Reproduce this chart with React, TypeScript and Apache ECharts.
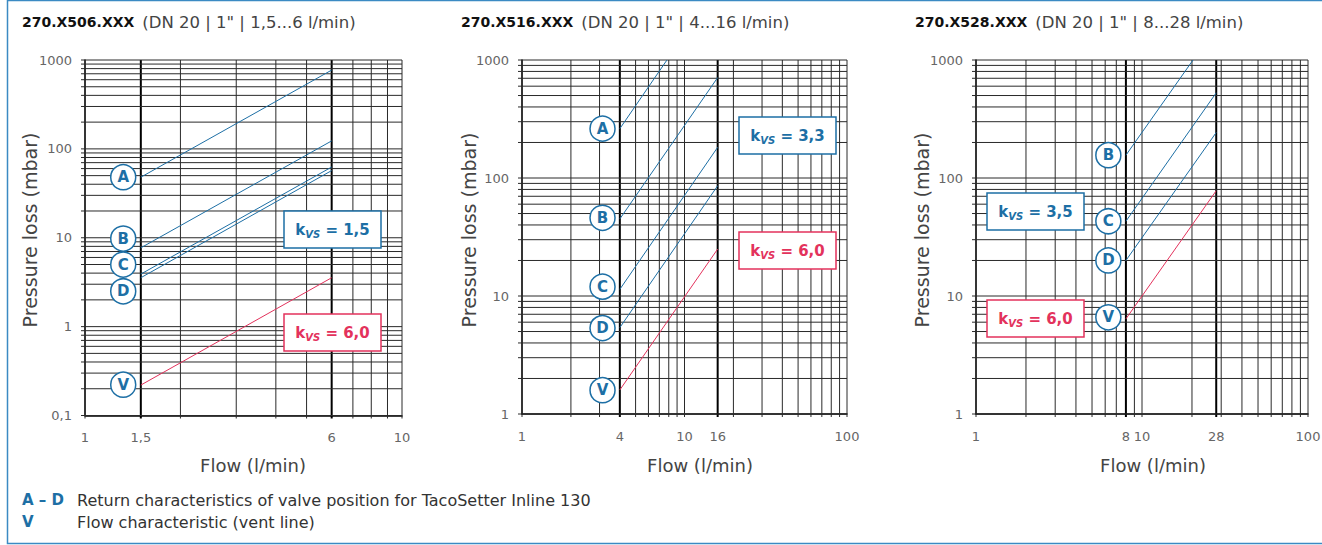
import React, { useEffect, useRef } from 'react';
import * as echarts from 'echarts';

// ---------- data: chart 1 (270.X506.XXX) ----------
const c1Title = '270.X506.XXX';
const c1Sub = '(DN 20 | 1" | 1,5...6 l/min)';
const c1Flow = [1.5, 6];
const c1A = [48, 770];
const c1B = [7.7, 123];
const c1C = [3.9, 62.5];
const c1D = [3.55, 57];
const c1V = [0.22, 3.55];
const c1LabelNames = ['A', 'B', 'C', 'D', 'V'];
const c1LabelFlow = 1.32;
const c1LabelLoss = [48, 9.8, 5.0, 2.5, 0.222];
const c1XTicks = [1, 1.5, 6, 10];
const c1YTicks = [0.1, 1, 10, 100, 1000];
const c1XBold = [1.5, 6];
const c1Kvs = ['1,5', '6,0'];

// ---------- data: chart 2 (270.X516.XXX) ----------
const c2Title = '270.X516.XXX';
const c2Sub = '(DN 20 | 1" | 4...16 l/min)';
const c2Flow = [4, 16];
const c2AFlow = [4, 7.8];
const c2A = [262, 1000];
const c2B = [45, 710];
const c2C = [11.4, 182];
const c2D = [5.4, 86];
const c2V = [1.6, 25];
const c2LabelNames = ['A', 'B', 'C', 'D', 'V'];
const c2LabelFlow = 3.13;
const c2LabelLoss = [262, 46, 12, 5.35, 1.59];
const c2XTicks = [1, 4, 10, 16, 100];
const c2YTicks = [1, 10, 100, 1000];
const c2XBold = [4, 16];
const c2Kvs = ['3,3', '6,0'];

// ---------- data: chart 3 (270.X528.XXX) ----------
const c3Title = '270.X528.XXX';
const c3Sub = '(DN 20 | 1" | 8...28 l/min)';
const c3Flow = [8, 28];
const c3BFlow = [8, 20.3];
const c3B = [156, 1000];
const c3C = [43, 527];
const c3D = [20, 243];
const c3V = [6.4, 78];
const c3LabelNames = ['B', 'C', 'D', 'V'];
const c3LabelFlow = 6.27;
const c3LabelLoss = [156, 43, 20, 6.6];
const c3XTicks = [1, 8, 10, 28, 100];
const c3YTicks = [1, 10, 100, 1000];
const c3XBold = [8, 28];
const c3Kvs = ['3,5', '6,0'];

const legendRows = [
  ['A – D', 'Return characteristics of valve position for TacoSetter Inline 130'],
  ['V', 'Flow characteristic (vent line)'],
];

// ---------- styles ----------
const BLUE = '#1d6fa5';
const RED = '#e3325c';
const FRAME = '#3b8ac3';
const GRIDC = '#2a2a2a';
const FONT = '"DejaVu Sans", "Noto Sans", sans-serif';

const fmt = (v: number) => String(v).replace('.', ',');

function logGrid(lo: number, hi: number, extra: number[]) {
  const out: number[] = [];
  const e0 = Math.round(Math.log10(lo));
  const e1 = Math.round(Math.log10(hi));
  for (let e = e0; e < e1; e++) {
    for (let m = 1; m < 10; m++) out.push(+(m * Math.pow(10, e)).toPrecision(6));
  }
  out.push(hi);
  extra.forEach((v) => { if (out.indexOf(v) < 0) out.push(v); });
  return out;
}

const pairs = (xs: number[], ys: number[]) => xs.map((x, i) => [x, ys[i]]);

type ChartSpec = {
  title: string; sub: string;
  xMin: number; xMax: number; yMin: number; yMax: number;
  curves: { name: string; flow: number[]; loss: number[]; color: string }[];
  labelNames: string[]; labelFlow: number; labelLoss: number[];
  xTicks: number[]; yTicks: number[]; xBold: number[]; kvs: string[];
  layout: { left: number; top: number; width: number; height: number; titleX: number; nameX: number; yNameX: number; boxX: number; boxBlueY: number; boxRedY: number };
};

const charts: ChartSpec[] = [
  {
    title: c1Title, sub: c1Sub, xMin: 1, xMax: 10, yMin: 0.1, yMax: 1000,
    curves: [
      { name: 'A', flow: c1Flow, loss: c1A, color: BLUE },
      { name: 'B', flow: c1Flow, loss: c1B, color: BLUE },
      { name: 'C', flow: c1Flow, loss: c1C, color: BLUE },
      { name: 'D', flow: c1Flow, loss: c1D, color: BLUE },
      { name: 'V', flow: c1Flow, loss: c1V, color: RED },
    ],
    labelNames: c1LabelNames, labelFlow: c1LabelFlow, labelLoss: c1LabelLoss,
    xTicks: c1XTicks, yTicks: c1YTicks, xBold: c1XBold, kvs: c1Kvs,
    layout: { left: 85, top: 60, width: 317, height: 355.5, titleX: 22, nameX: 253, yNameX: 30, boxX: 284, boxBlueY: 211, boxRedY: 314 },
  },
  {
    title: c2Title, sub: c2Sub, xMin: 1, xMax: 100, yMin: 1, yMax: 1000,
    curves: [
      { name: 'A', flow: c2AFlow, loss: c2A, color: BLUE },
      { name: 'B', flow: c2Flow, loss: c2B, color: BLUE },
      { name: 'C', flow: c2Flow, loss: c2C, color: BLUE },
      { name: 'D', flow: c2Flow, loss: c2D, color: BLUE },
      { name: 'V', flow: c2Flow, loss: c2V, color: RED },
    ],
    labelNames: c2LabelNames, labelFlow: c2LabelFlow, labelLoss: c2LabelLoss,
    xTicks: c2XTicks, yTicks: c2YTicks, xBold: c2XBold, kvs: c2Kvs,
    layout: { left: 522, top: 60, width: 325, height: 354, titleX: 461, nameX: 700, yNameX: 469, boxX: 739, boxBlueY: 117, boxRedY: 232 },
  },
  {
    title: c3Title, sub: c3Sub, xMin: 1, xMax: 100, yMin: 1, yMax: 1000,
    curves: [
      { name: 'B', flow: c3BFlow, loss: c3B, color: BLUE },
      { name: 'C', flow: c3Flow, loss: c3C, color: BLUE },
      { name: 'D', flow: c3Flow, loss: c3D, color: BLUE },
      { name: 'V', flow: c3Flow, loss: c3V, color: RED },
    ],
    labelNames: c3LabelNames, labelFlow: c3LabelFlow, labelLoss: c3LabelLoss,
    xTicks: c3XTicks, yTicks: c3YTicks, xBold: c3XBold, kvs: c3Kvs,
    layout: { left: 976, top: 60, width: 332, height: 354, titleX: 915, nameX: 1153, yNameX: 922, boxX: 987, boxBlueY: 193, boxRedY: 300 },
  },
];

function buildOption() {
  const grid: any[] = [];
  const xAxis: any[] = [];
  const yAxis: any[] = [];
  const series: any[] = [];
  const graphic: any[] = [];

  charts.forEach((c, gi) => {
    const L = c.layout;
    grid.push({ left: L.left, top: L.top, width: L.width, height: L.height });
    const axisBase = {
      gridIndex: gi, type: 'log', logBase: 10,
      axisLine: { show: true, onZero: false, lineStyle: { color: '#000', width: 1.5 } },
      axisTick: { show: false }, axisLabel: { show: false }, splitLine: { show: false },
    };
    xAxis.push({ ...axisBase, min: c.xMin, max: c.xMax });
    yAxis.push({ ...axisBase, min: c.yMin, max: c.yMax });

    const xs = logGrid(c.xMin, c.xMax, c.xBold);
    const ys = logGrid(c.yMin, c.yMax, []);

    // vertical grid lines + ticks
    series.push({
      type: 'custom', xAxisIndex: gi, yAxisIndex: gi, silent: true, z: 1,
      data: xs.map((v) => [v, c.yMin, c.xBold.indexOf(v) >= 0 ? 1 : 0]),
      encode: { x: 0, y: 1 },
      renderItem: (_p: any, api: any) => {
        const v = api.value(0);
        const b = api.value(2);
        const p0 = api.coord([v, c.yMin]);
        const p1 = api.coord([v, c.yMax]);
        return {
          type: 'line',
          shape: { x1: p0[0], y1: p0[1] + 3, x2: p1[0], y2: p1[1] },
          style: { stroke: b ? '#000' : GRIDC, lineWidth: b ? 2 : 1 },
        };
      },
    });
    // horizontal grid lines + ticks
    series.push({
      type: 'custom', xAxisIndex: gi, yAxisIndex: gi, silent: true, z: 1,
      data: ys.map((v) => [c.xMin, v]),
      encode: { x: 0, y: 1 },
      renderItem: (_p: any, api: any) => {
        const v = api.value(1);
        const p0 = api.coord([c.xMin, v]);
        const p1 = api.coord([c.xMax, v]);
        return {
          type: 'line',
          shape: { x1: p0[0] - 4, y1: p0[1], x2: p1[0], y2: p1[1] },
          style: { stroke: GRIDC, lineWidth: 1 },
        };
      },
    });
    // x tick labels
    series.push({
      type: 'custom', xAxisIndex: gi, yAxisIndex: gi, silent: true, z: 2,
      data: c.xTicks.map((v) => [v, c.yMin]),
      encode: { x: 0, y: 1 },
      renderItem: (_p: any, api: any) => {
        const v = api.value(0);
        const p = api.coord([v, c.yMin]);
        return {
          type: 'text', x: p[0], y: p[1] + 22,
          style: { text: fmt(v), fontSize: 13, fontFamily: FONT, fill: '#666', align: 'center', verticalAlign: 'middle' },
        };
      },
    });
    // y tick labels
    series.push({
      type: 'custom', xAxisIndex: gi, yAxisIndex: gi, silent: true, z: 2,
      data: c.yTicks.map((v) => [c.xMin, v]),
      encode: { x: 0, y: 1 },
      renderItem: (_p: any, api: any) => {
        const v = api.value(1);
        const p = api.coord([c.xMin, v]);
        return {
          type: 'text', x: p[0] - 13, y: p[1],
          style: { text: fmt(v), fontSize: 13, fontFamily: FONT, fill: '#666', align: 'right', verticalAlign: 'middle' },
        };
      },
    });

    // characteristic lines
    c.curves.forEach((cv) => {
      series.push({
        type: 'line', name: cv.name, xAxisIndex: gi, yAxisIndex: gi, z: 3,
        data: pairs(cv.flow, cv.loss), showSymbol: false, symbol: 'none',
        lineStyle: { color: cv.color, width: 1 }, silent: true,
      });
    });

    // circled labels
    series.push({
      type: 'scatter', xAxisIndex: gi, yAxisIndex: gi, z: 4, silent: true,
      symbol: 'circle', symbolSize: 25,
      itemStyle: { color: '#fff', borderColor: BLUE, borderWidth: 1.5, opacity: 1 },
      label: { show: true, position: 'inside', formatter: '{b}', color: BLUE, fontWeight: 'bold', fontSize: 15, fontFamily: FONT },
      data: c.labelNames.map((n, i) => ({ name: n, value: [c.labelFlow, c.labelLoss[i]] })),
    });

    // titles
    graphic.push({
      type: 'text', x: L.titleX, y: 22, z: 100,
      style: {
        text: `{b|${c.title}}{r|${c.sub}}`,
        verticalAlign: 'middle', align: 'left',
        rich: {
          b: { fontSize: 14, fontWeight: 'bold', fontFamily: FONT, fill: '#111', color: '#111' },
          r: { fontSize: 16.5, fontFamily: FONT, fill: '#444', color: '#444', padding: [0, 0, 0, 8] },
        },
      },
    });
    // axis names
    graphic.push({
      type: 'text', x: L.nameX, y: 465, z: 100,
      style: { text: 'Flow (l/min)', fontSize: 18, fontFamily: FONT, fill: '#444', align: 'center', verticalAlign: 'middle' },
    });
    graphic.push({
      type: 'text', x: L.yNameX, y: 230, rotation: Math.PI / 2, z: 100,
      style: { text: 'Pressure loss (mbar)', fontSize: 19, fontFamily: FONT, fill: '#444', align: 'center', verticalAlign: 'middle' },
    });
    // kvs boxes
    [[c.kvs[0], BLUE, L.boxBlueY], [c.kvs[1], RED, L.boxRedY]].forEach(([val, col, by]: any) => {
      graphic.push({
        type: 'rect', z: 100, shape: { x: L.boxX, y: by, width: 97, height: 37 },
        style: { fill: '#ffffff', stroke: col, lineWidth: 1.5 },
      });
      graphic.push({
        type: 'text', x: L.boxX + 48.5, y: by + 18.5, z: 101,
        style: {
          text: `{k|k}{s|VS}{k| = ${val}}`, align: 'center', verticalAlign: 'middle',
          rich: {
            k: { fontSize: 15, fontWeight: 'bold', fontFamily: FONT, fill: col, color: col, lineHeight: 20, verticalAlign: 'middle' },
            s: { fontSize: 10, fontWeight: 'bold', fontStyle: 'italic', fontFamily: FONT, fill: col, color: col, lineHeight: 12, verticalAlign: 'bottom' },
          },
        },
      });
    });
  });

  // frame
  graphic.push({
    type: 'rect', z: 100, shape: { x: 7.5, y: 0.5, width: 1330, height: 543 },
    style: { fill: 'none', stroke: FRAME, lineWidth: 1.5 },
  });
  // legend
  legendRows.forEach(([k, t], i) => {
    const y = 500 + i * 22;
    graphic.push({ type: 'text', x: 22, y, z: 100, style: { text: k, fontSize: 15, fontWeight: 'bold', fontFamily: FONT, fill: BLUE, verticalAlign: 'middle' } });
    graphic.push({ type: 'text', x: 77, y, z: 100, style: { text: t, fontSize: 16, fontFamily: FONT, fill: '#333', verticalAlign: 'middle' } });
  });

  return { animation: false, backgroundColor: '#fff', grid, xAxis, yAxis, series, graphic };
}

export default function App() {
  const ref = useRef<HTMLDivElement>(null);
  useEffect(() => {
    if (!ref.current) return;
    const chart = echarts.init(ref.current, undefined, { renderer: 'svg' });
    chart.setOption(buildOption() as any);
    return () => chart.dispose();
  }, []);
  return <div ref={ref} style={{ position: 'absolute', left: 0, top: 0, width: 1322, height: 545 }} />;
}
